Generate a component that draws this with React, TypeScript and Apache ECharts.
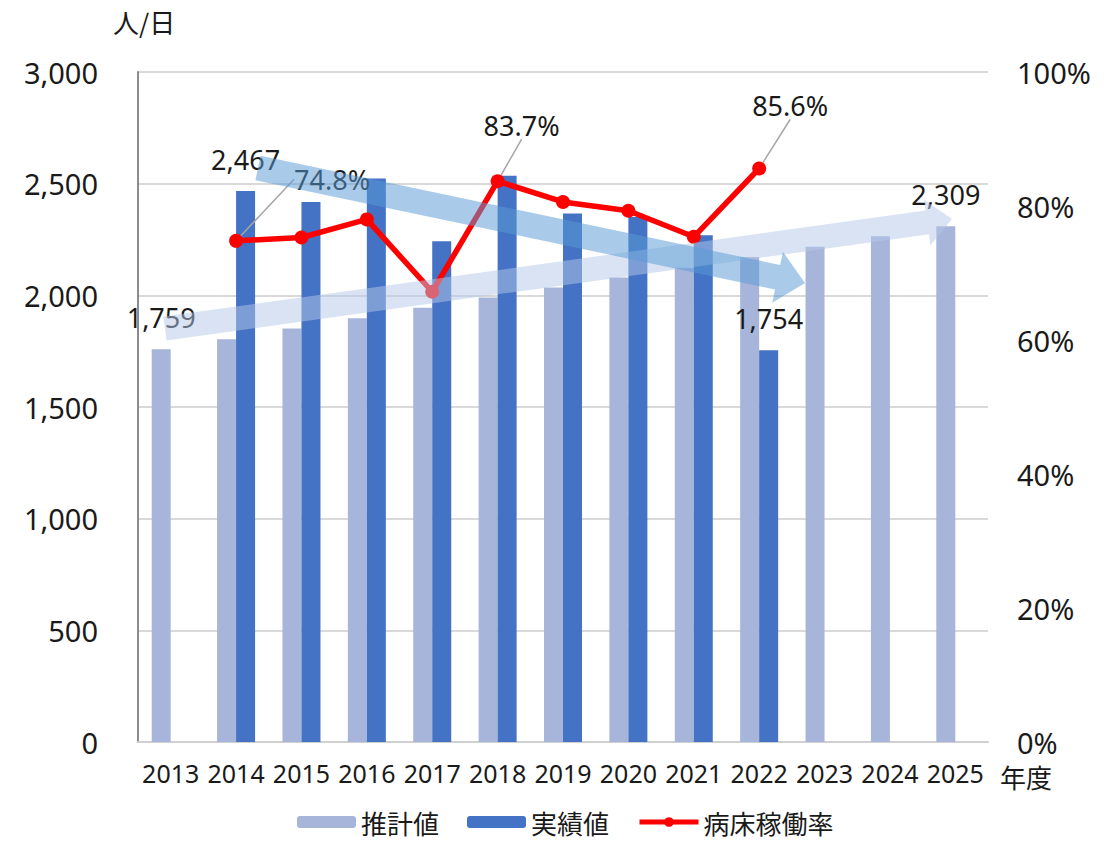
import React, { useEffect, useRef } from "react";
import * as echarts from "echarts";

const categories = ["2013", "2014", "2015", "2016", "2017", "2018", "2019", "2020", "2021", "2022", "2023", "2024", "2025"];
const estimateValues = [1759, 1803, 1851, 1897, 1944, 1990, 2035, 2080, 2124, 2172, 2217, 2265, 2309];
const actualValues = [null, 2467, 2418, 2523, 2242, 2535, 2366, 2351, 2269, 1754, null, null, null];
const occupancyRates = [null, 74.8, 75.3, 78.0, 67.2, 83.7, 80.6, 79.3, 75.4, 85.6, null, null, null];

const leftAxisMax = 3000;
const leftAxisStep = 500;
const rightAxisMax = 100;
const rightAxisStep = 20;

const estimateLabelIdx = [0, 12];
const actualLabelIdx = [1, 9];
const rateLabelIdx = [1, 5, 9];

const seriesNames = ["推計値", "実績値", "病床稼働率"];

const NUM_FONT = "'Noto Sans', 'Noto Sans CJK JP', sans-serif";
const CJK_FONT = "'Noto Sans CJK JP', 'Noto Sans', sans-serif";

function arrowPoints(x0: number, y0: number, x1: number, y1: number, halfT: number, headLen: number, headHalf: number) {
  const dx = x1 - x0, dy = y1 - y0;
  const L = Math.hypot(dx, dy);
  const ux = dx / L, uy = dy / L;
  const nx = -uy, ny = ux;
  const bx = x1 - ux * headLen, by = y1 - uy * headLen;
  return [
    [x0 + nx * halfT, y0 + ny * halfT],
    [bx + nx * halfT, by + ny * halfT],
    [bx + nx * headHalf, by + ny * headHalf],
    [x1, y1],
    [bx - nx * headHalf, by - ny * headHalf],
    [bx - nx * halfT, by - ny * halfT],
    [x0 - nx * halfT, y0 - ny * halfT],
  ];
}

export default function App() {
  const ref = useRef<HTMLDivElement>(null);
  useEffect(() => {
    document.body.style.margin = "0";
    if (!ref.current) return;
    const chart = echarts.init(ref.current, undefined, { renderer: "svg" });

    const rateOffsets: Record<number, [number, number]> = { 1: [96, -36], 5: [24, -30], 9: [31, -37] };

    const fmtNum = (v: number) => v.toLocaleString("en-US");

    const barLabel = {
      position: "top",
      distance: 18,
      fontSize: 27,
      fontFamily: NUM_FONT,
      color: "#1a1a1a",
      formatter: (p: any) => fmtNum(p.value),
    };

    const option: any = {
      animation: false,
      textStyle: { fontFamily: NUM_FONT },
      grid: { left: 138, right: 116, top: 72, bottom: 100, containLabel: false, outerBoundsMode: "none" },
      legend: {
        left: 292,
        top: 804,
        itemWidth: 59,
        itemHeight: 12,
        itemGap: 28,
        textStyle: { fontSize: 26, fontFamily: CJK_FONT, color: "#1a1a1a" },
        data: [
          { name: seriesNames[0] },
          { name: seriesNames[1] },
          { name: seriesNames[2], lineStyle: { width: 5, color: "#FF0000" }, itemStyle: { color: "#FF0000" } },
        ],
      },
      xAxis: {
        type: "category",
        data: categories,
        axisTick: { show: false },
        axisLine: { lineStyle: { color: "#D0D0D0", width: 2 } },
        axisLabel: { fontSize: 25, color: "#1a1a1a", margin: 18, interval: 0, fontFamily: NUM_FONT },
      },
      yAxis: [
        {
          type: "value",
          min: 0,
          max: leftAxisMax,
          interval: leftAxisStep,
          axisLine: { show: true, lineStyle: { color: "#8C8C8C", width: 2 } },
          axisTick: { show: false },
          splitLine: { lineStyle: { color: "#D9D9D9", width: 2 } },
          axisLabel: { fontSize: 29, color: "#1a1a1a", margin: 40, formatter: (v: number) => fmtNum(v), fontFamily: NUM_FONT },
        },
        {
          type: "value",
          min: 0,
          max: rightAxisMax,
          interval: rightAxisStep,
          axisLine: { show: false },
          axisTick: { show: false },
          splitLine: { show: false },
          axisLabel: { fontSize: 29, color: "#1a1a1a", margin: 29, formatter: "{value}%", fontFamily: NUM_FONT },
        },
      ],
      series: [
        {
          name: seriesNames[0],
          type: "bar",
          barWidth: 19,
          barGap: "0%",
          itemStyle: { color: "#A7B5DA" },
          label: barLabel,
          data: estimateValues.map((v, i) => ({ value: v, label: { show: estimateLabelIdx.includes(i) } })),
        },
        {
          name: seriesNames[1],
          type: "bar",
          barWidth: 19,
          barGap: "0%",
          itemStyle: { color: "#4472C4" },
          label: barLabel,
          data: actualValues.map((v, i) => ({ value: v, label: { show: actualLabelIdx.includes(i) } })),
        },
        {
          name: seriesNames[2],
          type: "line",
          yAxisIndex: 1,
          symbol: "circle",
          symbolSize: 14,
          lineStyle: { color: "#FF0000", width: 5.5 },
          itemStyle: { color: "#FF0000" },
          label: {
            position: "top",
            distance: 5,
            fontSize: 27,
            fontFamily: NUM_FONT,
            color: "#1a1a1a",
            formatter: (p: any) => Number(p.value).toFixed(1) + "%",
          },
          labelLine: { show: true, lineStyle: { color: "#A6A6A6", width: 1.5 } },
          labelLayout: (p: any) => {
            const o = rateOffsets[p.dataIndex];
            return o ? { dx: o[0], dy: o[1] } : {};
          },
          data: occupancyRates.map((v, i) => ({ value: v, label: { show: rateLabelIdx.includes(i) } })),
          z: 5,
        },
      ],
      graphic: [
        {
          type: "text",
          left: 113,
          top: 8,
          style: { text: "人/日", fontSize: 26, fontFamily: CJK_FONT, fill: "#1a1a1a" },
        },
        {
          type: "text",
          left: 1000,
          top: 763,
          style: { text: "年度", fontSize: 26, fontFamily: CJK_FONT, fill: "#1a1a1a" },
        },
        {
          type: "polygon",
          z: 100,
          shape: { points: arrowPoints(165, 328.5, 952, 219, 12, 25, 23) },
          style: { fill: "rgba(180,199,231,0.5)" },
        },
        {
          type: "polygon",
          z: 101,
          shape: { points: arrowPoints(258, 168, 805, 283, 12.5, 28, 26) },
          style: { fill: "rgba(91,155,213,0.52)" },
        },
      ],
    };

    chart.setOption(option);
    return () => chart.dispose();
  }, []);

  return <div ref={ref} style={{ width: 1104, height: 842 }} />;
}
